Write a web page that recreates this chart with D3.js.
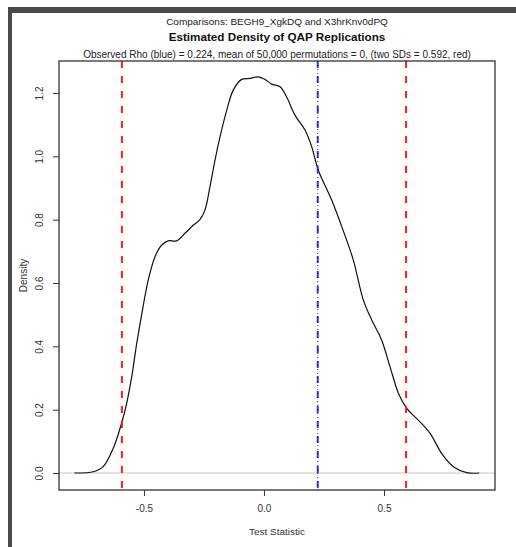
<!DOCTYPE html>
<html><head><meta charset="utf-8">
<script src="https://cdn.jsdelivr.net/npm/d3@7"></script>
<style>html,body{margin:0;padding:0;background:#fff;}svg{display:block;font-family:"Liberation Sans",Arial,sans-serif;}</style>
</head><body>
<script>
const xVals = [-0.79,-0.711,-0.67,-0.628,-0.593,-0.572,-0.551,-0.530,-0.505,-0.482,-0.454,-0.426,-0.399,-0.364,-0.329,-0.294,-0.267,-0.246,-0.225,-0.204,-0.183,-0.155,-0.128,-0.093,-0.058,-0.024,0.004,0.032,0.067,0.094,0.129,0.171,0.199,0.226,0.282,0.324,0.372,0.414,0.449,0.49,0.525,0.56,0.595,0.643,0.692,0.74,0.789,0.845,0.897];
const densVals = [0,0.004,0.02,0.078,0.158,0.22,0.304,0.41,0.52,0.61,0.683,0.72,0.733,0.733,0.757,0.783,0.80,0.83,0.904,0.988,1.062,1.146,1.209,1.243,1.246,1.251,1.243,1.228,1.22,1.188,1.13,1.083,1.03,0.957,0.862,0.778,0.673,0.546,0.483,0.42,0.336,0.252,0.204,0.167,0.125,0.062,0.02,0.001,0];
const observedRho = 0.224;
const sdLines = [-0.592, 0.592];
const xTicks = [-0.5, 0.0, 0.5];
const yTicks = [0.0, 0.2, 0.4, 0.6, 0.8, 1.0, 1.2];
const titleTop = "Comparisons: BEGH9_XgkDQ and X3hrKnv0dPQ";
const titleMain = "Estimated Density of QAP Replications";
const titleSub = "Observed Rho (blue) = 0.224, mean of 50,000 permutations = 0, (two SDs = 0.592, red)";
const xLabel = "Test Statistic";
const yLabel = "Density";

const W = 516, H = 547;
const box = {l:59, r:495, t:61, b:490};
const svg = d3.select("body").append("svg").attr("width", W).attr("height", H);

// outer frame
svg.append("rect").attr("x",8).attr("y",7).attr("width",W-8).attr("height",6).attr("fill","#4a4a4a");
svg.append("rect").attr("x",8).attr("y",7).attr("width",4).attr("height",H-7).attr("fill","#4a4a4a");

const x = d3.scaleLinear().domain([-0.854, 0.9625]).range([box.l, box.r]);
const y = d3.scaleLinear().domain([-0.0537, 1.301]).range([box.b, box.t]);

svg.append("defs").append("clipPath").attr("id","clip").append("rect")
  .attr("x",box.l).attr("y",box.t).attr("width",box.r-box.l).attr("height",box.b-box.t);

const g = svg.append("g").attr("clip-path","url(#clip)");

g.append("line").attr("x1",box.l).attr("x2",box.r).attr("y1",y(0)).attr("y2",y(0))
  .attr("stroke","#c8c8c8").attr("stroke-width",1.2);

const pts = xVals.map((v,i)=>[v,densVals[i]]);
g.append("path").datum(pts)
  .attr("d", d3.line().x(d=>x(d[0])).y(d=>y(d[1])).curve(d3.curveCatmullRom.alpha(0.5)))
  .attr("fill","none").attr("stroke","#111").attr("stroke-width",1.2);

sdLines.forEach(v=>{
  g.append("line").attr("x1",x(v)).attr("x2",x(v)).attr("y1",box.t).attr("y2",box.b)
    .attr("stroke","#ff1a1a").attr("stroke-width",2).attr("stroke-dasharray","7,8");
});
g.append("line").attr("x1",x(observedRho)).attr("x2",x(observedRho)).attr("y1",box.t).attr("y2",box.b)
  .attr("stroke","#3333ff").attr("stroke-width",2).attr("stroke-dasharray","7,8");
g.append("line").attr("x1",x(observedRho)).attr("x2",x(observedRho)).attr("y1",box.t).attr("y2",box.b)
  .attr("stroke","#000").attr("stroke-width",0.8).attr("stroke-dasharray","1,3");

svg.append("rect").attr("x",box.l).attr("y",box.t).attr("width",box.r-box.l).attr("height",box.b-box.t)
  .attr("fill","none").attr("stroke","#333").attr("stroke-width",1.3);

const fmt = d => d3.format(".1f")(d).replace("−","-");
const xAxis = d3.axisBottom(x).tickValues(xTicks).tickFormat(fmt).tickSize(6).tickPadding(9);
const xa = svg.append("g").attr("transform",`translate(0,${box.b})`).call(xAxis);
xa.select(".domain").remove();
xa.selectAll("line").attr("stroke","#333");
xa.selectAll("text").attr("font-size",10).attr("fill","#333");

const yAxis = d3.axisLeft(y).tickValues(yTicks).tickFormat(fmt).tickSize(6);
const ya = svg.append("g").attr("transform",`translate(${box.l},0)`).call(yAxis);
ya.select(".domain").remove();
ya.selectAll("line").attr("stroke","#333");
ya.selectAll("text").attr("font-size",10).attr("fill","#333")
  .attr("x",0).attr("dy",null).attr("text-anchor","middle")
  .attr("transform","translate(-16,0) rotate(-90)").attr("y",0);

// fit text to measured widths in reference
function fitText(sel, target){
  const base = +sel.attr("font-size");
  const w = sel.node().getComputedTextLength();
  if (w > 0) sel.attr("font-size", base*target/w);
  return sel;
}
const cx = (box.l+box.r)/2;
fitText(svg.append("text").attr("x",cx).attr("y",25).attr("text-anchor","middle").attr("font-size",10).attr("fill","#222").text(titleTop), 222);
fitText(svg.append("text").attr("x",cx).attr("y",40.5).attr("text-anchor","middle").attr("font-size",12).attr("font-weight","bold").attr("fill","#111").text(titleMain), 217);
fitText(svg.append("text").attr("x",cx).attr("y",58).attr("text-anchor","middle").attr("font-size",9).attr("fill","#222").text(titleSub), 388);
fitText(svg.append("text").attr("x",cx).attr("y",535).attr("text-anchor","middle").attr("font-size",9).attr("fill","#333").text(xLabel), 56);
svg.append("text").attr("transform",`translate(27,${(box.t+box.b)/2}) rotate(-90)`).attr("text-anchor","middle").attr("font-size",10).attr("fill","#333").text(yLabel);
</script>
</body></html>
